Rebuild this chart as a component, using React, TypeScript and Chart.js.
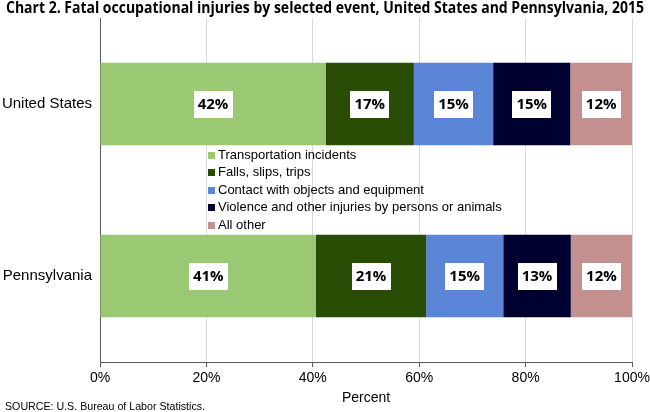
import React, { useEffect, useRef } from "react";
import { Chart, registerables } from "chart.js";

Chart.register(...registerables);

const categories = ["United States", "Pennsylvania"];
const seriesNames = [
  "Transportation incidents",
  "Falls, slips, trips",
  "Contact with objects and equipment",
  "Violence and other injuries by persons or animals",
  "All other",
];
const unitedStates = [42.4, 16.6, 14.9, 14.5, 11.6];
const pennsylvania = [40.6, 20.7, 14.5, 12.7, 11.5];
const colors = ["#9BC973", "#294D05", "#5B85D6", "#000030", "#C48F8F"];
const xTicks = [0, 20, 40, 60, 80, 100];

const TITLE = "Chart 2. Fatal occupational injuries by selected event, United States and Pennsylvania, 2015";
const SOURCE = "SOURCE: U.S. Bureau of Labor Statistics.";

function fitText(ctx: any, text: string, x: number, y: number, width: number, align: string) {
  const w = ctx.measureText(text).width;
  const k = width / w;
  ctx.save();
  ctx.textAlign = "left";
  const left = align === "center" ? x - width / 2 : x;
  ctx.translate(left, y);
  ctx.scale(k, 1);
  ctx.fillText(text, 0, 0);
  ctx.restore();
}

const overlay = {
  id: "overlay",
  afterDatasetsDraw(chart: any) {
    const ctx = chart.ctx;
    ctx.save();
    chart.data.datasets.forEach((ds: any, di: number) => {
      const meta = chart.getDatasetMeta(di);
      meta.data.forEach((bar: any, i: number) => {
        const cx = (bar.x + bar.base) / 2;
        const cy = bar.y;
        const txt = Math.round(ds.data[i]) + "%";
        ctx.fillStyle = "#ffffff";
        ctx.fillRect(Math.round(cx - 19.5), Math.round(cy - 13.5), 39, 27);
        ctx.fillStyle = "#000000";
        ctx.font = "bold 15px 'Open Sans'";
        ctx.textAlign = "center";
        ctx.textBaseline = "middle";
        ctx.fillText(txt, cx, cy + 1);
      });
    });
    const lx = 208;
    const ly0 = 155;
    const step = 17.5;
    ctx.font = "13px 'Liberation Sans'";
    ctx.textAlign = "left";
    ctx.textBaseline = "middle";
    chart.data.datasets.forEach((ds: any, di: number) => {
      const y = ly0 + di * step;
      ctx.fillStyle = ds.backgroundColor;
      ctx.fillRect(lx, Math.round(y - 3.5), 7, 7);
      ctx.fillStyle = "#000000";
      ctx.fillText(ds.label, lx + 10, y);
    });
    ctx.restore();
  },
  afterDraw(chart: any) {
    const ctx = chart.ctx;
    const area = chart.chartArea;
    ctx.save();
    ctx.fillStyle = "#000000";
    ctx.textBaseline = "middle";
    ctx.font = "bold 16px 'Open Sans'";
    fitText(ctx, TITLE, 325, 8, 638, "center");
    ctx.textAlign = "center";
    ctx.font = "14px 'Liberation Sans'";
    ctx.fillText("Percent", (area.left + area.right) / 2, 398);
    ctx.font = "11px 'Liberation Sans'";
    fitText(ctx, SOURCE, 5, 407, 200, "left");
    ctx.restore();
  },
};

export default function App() {
  const ref = useRef<HTMLCanvasElement>(null);
  useEffect(() => {
    document.body.style.margin = "0";
    const canvas = ref.current!;
    const chart = new Chart(canvas, {
      type: "bar",
      data: {
        labels: categories,
        datasets: seriesNames.map((name, i) => ({
          label: name,
          data: [unitedStates[i], pennsylvania[i]],
          backgroundColor: colors[i],
          borderWidth: 0,
          categoryPercentage: 1,
          barPercentage: 0.48,
        })),
      },
      options: {
        indexAxis: "y",
        responsive: false,
        animation: false,
        devicePixelRatio: 1,
        layout: { padding: { top: 18, right: 18, left: 0, bottom: 0 } },
        plugins: {
          legend: { display: false },
          title: { display: false },
          tooltip: { enabled: false },
        },
        scales: {
          x: {
            stacked: true,
            min: 0,
            max: 100,
            afterBuildTicks: (s: any) => {
              s.ticks = xTicks.map((v) => ({ value: v }));
            },
            ticks: {
              callback: (v: any) => v + "%",
              font: { family: "'Liberation Sans'", size: 14 },
              color: "#000000",
              padding: 3,
              maxRotation: 0,
            },
            grid: { color: "#d9d9d9", tickColor: "#595959", tickLength: 5 },
            border: { color: "#595959", width: 1 },
            afterFit: (s: any) => {
              s.height = 50;
              s.paddingLeft = 0;
              s.paddingRight = 0;
            },
          },
          y: {
            stacked: true,
            ticks: {
              font: { family: "'Liberation Sans'", size: 15 },
              color: "#000000",
              padding: 8,
            },
            grid: { display: false, drawTicks: false },
            border: { color: "#595959", width: 1 },
            afterFit: (s: any) => {
              s.width = 100;
            },
          },
        },
      },
      plugins: [overlay],
    } as any);
    return () => chart.destroy();
  }, []);
  return (
    <div style={{ width: 650, height: 412 }}>
      <canvas ref={ref} width={650} height={412} />
    </div>
  );
}
